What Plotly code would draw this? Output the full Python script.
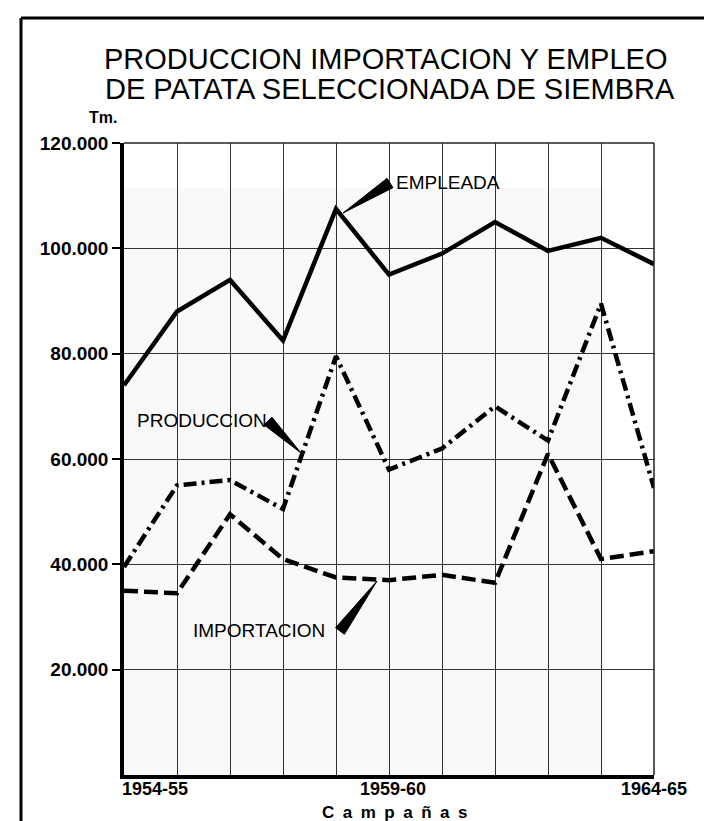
import plotly.graph_objects as go

# ---- data ----
campanas = ["1954-55", "1955-56", "1956-57", "1957-58", "1958-59", "1959-60",
            "1960-61", "1961-62", "1962-63", "1963-64", "1964-65"]
empleada = [74000, 88000, 94000, 82500, 107500, 95000, 99000, 105000, 99500, 102000, 97000]
produccion = [39500, 55000, 56000, 50500, 79500, 58000, 62000, 70000, 63500, 89500, 54500]
importacion = [35000, 34500, 49500, 41000, 37500, 37000, 38000, 36500, 61000, 41000, 42500]
y_ticks = [20000, 40000, 60000, 80000, 100000, 120000]
y_ticktext = ["20.000", "40.000", "60.000", "80.000", "100.000", "120.000"]
x_label_cats = ["1954-55", "1959-60", "1964-65"]

W, H = 712, 821
L, R, T, B = 116, 646, 135, 767
FONT = "Liberation Sans, Arial, sans-serif"


def pp(x, y):
    """pixel -> paper coordinates (for decorations only)"""
    return (x - L) / (R - L), (B - y) / (B - T)


def wedge(tip, base, hw):
    tx, ty = tip
    bx, by = base
    dx, dy = bx - tx, by - ty
    n = (dx * dx + dy * dy) ** 0.5
    ux, uy = -dy / n * hw, dx / n * hw
    p0 = pp(tx, ty)
    p1 = pp(bx + ux, by + uy)
    p2 = pp(bx - ux, by - uy)
    return dict(type="path", xref="paper", yref="paper",
                path=f"M {p0[0]},{p0[1]} L {p1[0]},{p1[1]} L {p2[0]},{p2[1]} Z",
                fillcolor="black", line=dict(color="black", width=1))


fig = go.Figure()
fig.add_trace(go.Scatter(x=campanas, y=empleada, mode="lines", name="EMPLEADA",
                         line=dict(color="black", width=4.5)))
fig.add_trace(go.Scatter(x=campanas, y=produccion, mode="lines", name="PRODUCCION",
                         line=dict(color="black", width=4.5, dash="13px,5px,3px,5px")))
fig.add_trace(go.Scatter(x=campanas, y=importacion, mode="lines", name="IMPORTACION",
                         line=dict(color="black", width=4.5, dash="14px,6px")))

shapes = []
# faint paper tone of the scan
g1 = pp(597, 180)
shapes.append(dict(type="rect", xref="paper", yref="paper", x0=0, x1=g1[0], y0=0, y1=g1[1],
                   fillcolor="#f9f9f9", line=dict(width=0), layer="below"))
# top and right borders of the grid
shapes.append(dict(type="line", xref="paper", yref="paper", x0=0, x1=1, y0=1, y1=1,
                   line=dict(color="#222", width=1.5)))
shapes.append(dict(type="line", xref="paper", yref="paper", x0=1, x1=1, y0=0, y1=1,
                   line=dict(color="#222", width=1.5)))
# page frame (left and top)
a = pp(13, 10)
b = pp(13, 821)
c = pp(712, 10)
shapes.append(dict(type="line", xref="paper", yref="paper", x0=a[0], y0=a[1], x1=b[0], y1=b[1],
                   line=dict(color="black", width=3)))
shapes.append(dict(type="line", xref="paper", yref="paper", x0=a[0], y0=a[1], x1=c[0], y1=c[1],
                   line=dict(color="black", width=3)))
# label pointers
shapes.append(wedge((335, 205), (382, 175), 5.5))
shapes.append(wedge((293, 445), (260, 413), 5.5))
shapes.append(wedge((369, 573), (332, 623), 5.5))

ann = []


def add_text(text, x, y, size, bold=False, xanchor="center"):
    px_, py_ = pp(x, y)
    ann.append(dict(text=(f"<b>{text}</b>" if bold else text), x=px_, y=py_, xref="paper", yref="paper",
                    xanchor=xanchor, yanchor="middle", showarrow=False,
                    font=dict(family=FONT, size=size, color="black")))


add_text("PRODUCCION IMPORTACION Y EMPLEO", 377, 51, 29)
add_text("DE PATATA SELECCIONADA DE SIEMBRA", 382, 81, 29)
add_text("Tm.", 95, 109, 16, bold=True)
add_text("EMPLEADA", 386, 174, 19, xanchor="left")
add_text("PRODUCCION", 127, 412, 19, xanchor="left")
add_text("IMPORTACION", 183, 622, 19, xanchor="left")
add_text("C\u2002a\u2002m\u2002p\u2002a\u2002ñ\u2002a\u2002s", 386, 804, 17, bold=True)

# x labels (category positions via the x axis)
x_shift = {"1954-55": 31, "1959-60": 4, "1964-65": 0}
for cat in x_label_cats:
    ann.append(dict(text=f"<b>{cat}</b>", x=cat, y=0, xref="x", yref="paper",
                    xanchor="center", yanchor="middle", yshift=-14, xshift=x_shift[cat],
                    showarrow=False,
                    font=dict(family=FONT, size=18, color="black")))

fig.update_layout(
    width=W, height=H,
    margin=dict(l=L, r=W - R, t=T, b=H - B, pad=0),
    paper_bgcolor="white", plot_bgcolor="white",
    showlegend=False,
    shapes=shapes,
    annotations=ann,
    xaxis=dict(type="category", range=[0, len(campanas) - 1], showticklabels=False,
               showgrid=True, gridcolor="#333", gridwidth=1.2,
               showline=True, linecolor="black", linewidth=3.5, ticks="", zeroline=False),
    yaxis=dict(range=[0, 120000], tickvals=y_ticks, ticktext=y_ticktext,
               showgrid=True, gridcolor="#333", gridwidth=1.2,
               showline=True, linecolor="black", linewidth=3.5, zeroline=False,
               ticks="outside", ticklen=8, tickwidth=1.5, tickcolor="black",
               tickfont=dict(family=FONT, size=19, color="black", weight="bold")),
)

fig.write_html("out.html")
